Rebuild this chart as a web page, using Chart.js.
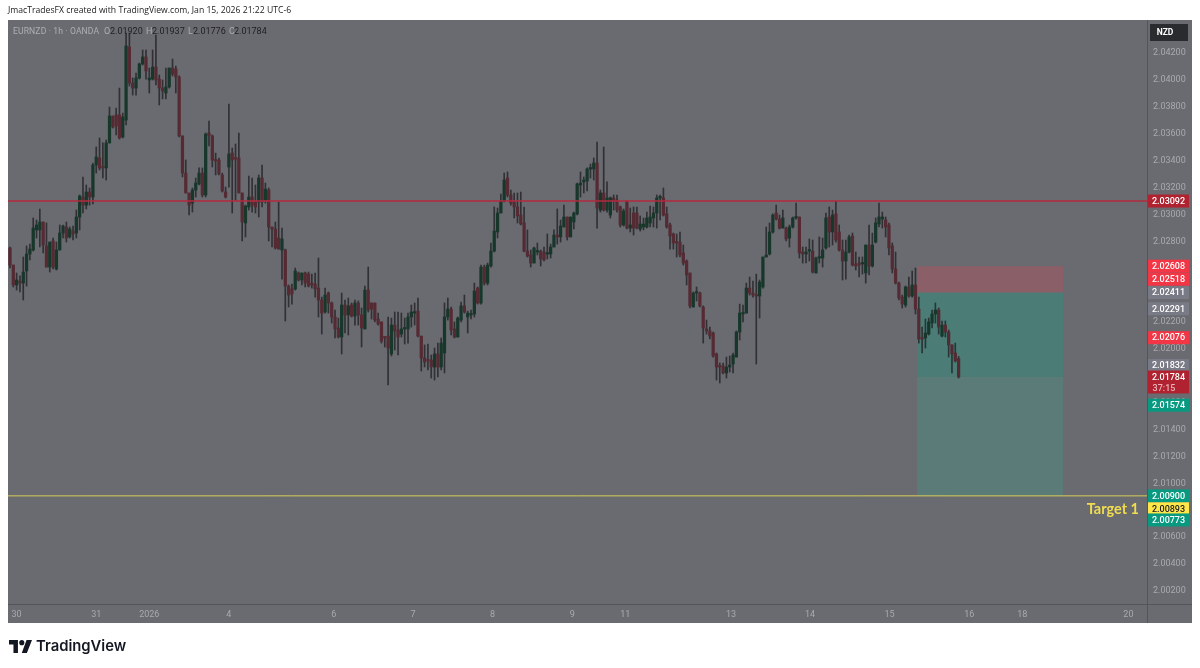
<!DOCTYPE html>
<html><head><meta charset="utf-8"><title>EURNZD</title>
<script src="https://cdn.jsdelivr.net/npm/chart.js@4"></script>
<style>
html,body{margin:0;padding:0;background:#fff;width:1200px;height:668px;overflow:hidden}
#c{position:absolute;left:0;top:0}
.t{position:absolute;white-space:pre;font-family:Roboto,sans-serif}
#cap{left:8px;top:4px;font:8.65px/13px "Open Sans",sans-serif;color:#222}
.lg{top:25px;font-size:9px;line-height:13px}
.g{color:#adaeb2}.v{color:#1e1e22}
#logo{left:9px;top:640px}
#lt{left:36px;top:636px;font:600 14.8px/20px Inter,sans-serif;color:#131722}
</style></head><body>
<canvas id="c" width="1200" height="668"></canvas>
<div class="t" id="cap">JmacTradesFX created with TradingView.com, Jan 15, 2026 21:22 UTC-6</div>
<div class="t lg g" style="left:13px;font-size:8.6px;letter-spacing:.12px">EURNZD · 1h · OANDA</div>
<div class="t lg g" style="left:104px">O</div><div class="t lg v" style="left:110px">2.01920</div>
<div class="t lg g" style="left:146px">H</div><div class="t lg v" style="left:152px">2.01937</div>
<div class="t lg g" style="left:188px">L</div><div class="t lg v" style="left:193px">2.01776</div>
<div class="t lg g" style="left:229px">C</div><div class="t lg v" style="left:234px">2.01784</div>
<svg class="t" id="logo" width="23" height="13" viewBox="0 0 36 20"><path fill="#131722" d="M14 20H7V7H0V0h14v20zM28 20h-8l7.5-20H36l-8 20z"/><circle cx="20" cy="4" r="4" fill="#131722"/></svg>
<div class="t" id="lt">TradingView</div>
<script>
const opens=[
2.02743,2.02616,2.02468,2.02497,2.02482,2.02572,2.02698,2.02728,2.02877,2.02877,
2.02936,2.02758,2.02601,2.02795,2.02587,2.02728,2.02854,2.02899,2.02825,2.02869,
2.02854,2.02973,2.03122,2.03062,2.03159,2.03122,2.03360,2.03412,2.03345,2.03338,
2.03524,2.03724,2.03732,2.03732,2.03568,2.03694,2.04237,2.03970,2.03932,2.04007,
2.04111,2.04163,2.03992,2.03999,2.04088,2.03999,2.03932,2.03895,2.03940,2.04081,
2.04074,2.04014,2.03576,2.03300,2.03152,2.03077,2.03174,2.03219,2.03300,2.03137,
2.03598,2.03576,2.03397,2.03397,2.03286,2.03159,2.03345,2.03449,2.03412,2.03412,
2.03152,2.02929,2.03048,2.03122,2.03085,2.03085,2.03263,2.03100,2.03174,2.02899,
2.02884,2.02817,2.02728,2.02728,2.02460,2.02438,2.02438,2.02557,2.02505,2.02557,
2.02549,2.02482,2.02475,2.02445,2.02356,2.02267,2.02408,2.02334,2.02230,2.02148,
2.02081,2.02319,2.02245,2.02319,2.02237,2.02334,2.02245,2.02141,2.02430,2.02334,
2.02334,2.02215,2.02193,2.02081,2.02088,2.01955,2.02170,2.02133,2.02103,2.02141,
2.02141,2.02230,2.02259,2.02274,2.02088,2.01925,2.01910,2.01910,2.01858,2.01955,
2.01858,2.01962,2.02230,2.02289,2.02141,2.02081,2.02207,2.02312,2.02230,2.02245,
2.02252,2.02445,2.02334,2.02601,2.02482,2.02609,2.02720,2.02862,2.03003,2.03092,
2.03263,2.03137,2.03085,2.03048,2.02988,2.02929,2.02720,2.02691,2.02631,2.02713,
2.02720,2.02713,2.02698,2.02698,2.02750,2.02839,2.02825,2.02899,2.02973,2.02825,
2.02936,2.02996,2.03211,2.03234,2.03241,2.03330,2.03330,2.03375,2.03025,2.03152,
2.03025,2.02988,2.03115,2.03100,2.03048,2.02914,2.03092,2.02891,2.03003,2.03003,
2.02884,2.02899,2.02899,2.02929,2.02966,2.03003,2.03115,2.03115,2.02996,2.02914,
2.02847,2.02787,2.02787,2.02706,2.02646,2.02557,2.02304,2.02408,2.02408,2.02304,
2.02141,2.02126,2.02111,2.01955,2.01866,2.01866,2.01814,2.01858,2.01880,2.01932,
2.02118,2.02252,2.02259,2.02445,2.02408,2.02393,2.02386,2.02453,2.02676,2.02698,
2.02862,2.03003,2.02958,2.02891,2.02891,2.02817,2.02899,2.02966,2.02973,2.02713,
2.02698,2.02720,2.02720,2.02557,2.02668,2.02668,2.02743,2.02973,2.02862,2.02996,
2.02862,2.02728,2.02646,2.02713,2.02832,2.02624,2.02631,2.02624,2.02557,2.02765,
2.02609,2.02787,2.02921,2.02958,2.02951,2.02914,2.02758,2.02587,2.02482,2.02378,
2.02319,2.02453,2.02386,2.02468,2.02289,2.02074,2.02074,2.02103,2.02185,2.02252,
2.02282,2.02088,2.02170,2.02118,2.02022,2.01962,2.01920];
const highs=[
2.02750,2.02616,2.02557,2.02535,2.02676,2.02758,2.02772,2.02966,2.02951,2.03033,
2.02936,2.02929,2.02787,2.02817,2.02787,2.02914,2.02914,2.02936,2.02899,2.02906,
2.03025,2.03137,2.03271,2.03211,2.03189,2.03375,2.03494,2.03561,2.03524,2.03546,
2.03791,2.03724,2.03784,2.03932,2.03746,2.04341,2.04341,2.04007,2.04044,2.04118,
2.04215,2.04215,2.04081,2.04215,2.04326,2.04029,2.03992,2.04081,2.04081,2.04148,
2.04096,2.04022,2.03576,2.03397,2.03152,2.03189,2.03263,2.03338,2.03338,2.03598,
2.03687,2.03583,2.03449,2.03412,2.03300,2.03196,2.03813,2.03486,2.03516,2.03598,
2.03152,2.03062,2.03278,2.03263,2.03211,2.03286,2.03360,2.03226,2.03189,2.02899,
2.02936,2.03085,2.02891,2.02735,2.02468,2.02475,2.02594,2.02564,2.02557,2.02564,
2.02564,2.02549,2.02557,2.02668,2.02378,2.02445,2.02416,2.02341,2.02282,2.02222,
2.02408,2.02356,2.02371,2.02334,2.02356,2.02349,2.02297,2.02460,2.02601,2.02334,
2.02334,2.02259,2.02193,2.02081,2.02230,2.02222,2.02267,2.02267,2.02259,2.02222,
2.02259,2.02319,2.02334,2.02371,2.02088,2.02022,2.02029,2.01947,2.01999,2.02036,
2.02074,2.02334,2.02371,2.02304,2.02193,2.02230,2.02341,2.02393,2.02274,2.02282,
2.02482,2.02453,2.02616,2.02616,2.02631,2.02780,2.03048,2.03040,2.03144,2.03300,
2.03308,2.03174,2.03152,2.03152,2.03159,2.03048,2.02877,2.02728,2.02750,2.02780,
2.02728,2.02750,2.02847,2.02772,2.02877,2.03033,2.02951,2.03062,2.02973,2.02973,
2.03010,2.03226,2.03308,2.03271,2.03338,2.03367,2.03412,2.03531,2.03174,2.03494,
2.03234,2.03122,2.03137,2.03137,2.03055,2.03033,2.03092,2.03040,2.03048,2.03048,
2.02981,2.02966,2.03010,2.03055,2.03048,2.03137,2.03137,2.03189,2.03048,2.02929,
2.02854,2.02847,2.02862,2.02765,2.02654,2.02557,2.02416,2.02453,2.02416,2.02312,
2.02207,2.02155,2.02118,2.01962,2.01888,2.01888,2.01932,2.01940,2.01962,2.02126,
2.02326,2.02319,2.02482,2.02527,2.02497,2.02549,2.02505,2.02676,2.02899,2.02929,
2.02996,2.03062,2.02988,2.03025,2.02899,2.02914,2.02973,2.03077,2.02973,2.02750,
2.02750,2.02810,2.02802,2.02676,2.02825,2.02817,2.03003,2.03048,2.03025,2.03092,
2.02914,2.02802,2.02802,2.02839,2.02854,2.02713,2.02676,2.02676,2.02765,2.02914,
2.02854,2.02966,2.03077,2.03010,2.02973,2.02929,2.02780,2.02713,2.02490,2.02393,
2.02460,2.02527,2.02572,2.02594,2.02378,2.02155,2.02215,2.02222,2.02282,2.02334,
2.02297,2.02200,2.02200,2.02133,2.02022,2.02036,2.01937];
const lows=[
2.02594,2.02453,2.02430,2.02416,2.02356,2.02460,2.02654,2.02720,2.02817,2.02750,
2.02706,2.02601,2.02564,2.02587,2.02579,2.02728,2.02817,2.02787,2.02817,2.02802,
2.02817,2.02877,2.03003,2.03033,2.03062,2.03070,2.03300,2.03323,2.03263,2.03248,
2.03524,2.03635,2.03583,2.03553,2.03561,2.03657,2.03947,2.03880,2.03880,2.03999,
2.04103,2.03999,2.03895,2.03992,2.03955,2.03806,2.03851,2.03851,2.03932,2.04022,
2.03895,2.03568,2.03271,2.03152,2.02988,2.03010,2.03122,2.03211,2.03122,2.03122,
2.03501,2.03345,2.03286,2.03286,2.03159,2.03115,2.03196,2.03003,2.03100,2.03152,
2.02795,2.02825,2.03025,2.03010,2.03003,2.02973,2.03048,2.03077,2.02795,2.02750,
2.02735,2.02735,2.02512,2.02200,2.02304,2.02326,2.02430,2.02497,2.02468,2.02453,
2.02453,2.02445,2.02378,2.02230,2.02103,2.02259,2.02259,2.02185,2.02074,2.02074,
2.01955,2.02111,2.02096,2.02230,2.02170,2.02170,2.02007,2.02141,2.02267,2.02215,
2.02193,2.02170,2.02036,2.02007,2.01724,2.01940,2.01984,2.01947,2.02081,2.02029,
2.02036,2.02155,2.02170,2.02081,2.01828,2.01858,2.01836,2.01776,2.01761,2.01784,
2.01836,2.01814,2.02207,2.02096,2.02074,2.02081,2.02193,2.02259,2.02111,2.02215,
2.02230,2.02326,2.02326,2.02468,2.02468,2.02601,2.02713,2.02817,2.03003,2.03085,
2.03122,2.03062,2.02966,2.02929,2.02914,2.02713,2.02676,2.02601,2.02631,2.02691,
2.02609,2.02646,2.02661,2.02668,2.02750,2.02772,2.02787,2.02899,2.02802,2.02825,
2.02884,2.02988,2.03122,2.03152,2.03167,2.03263,2.03248,2.02891,2.03010,2.03018,
2.03010,2.02966,2.03025,2.03010,2.02899,2.02906,2.02884,2.02862,2.02839,2.02884,
2.02869,2.02877,2.02891,2.02899,2.02899,2.02891,2.02951,2.02981,2.02891,2.02735,
2.02735,2.02676,2.02676,2.02616,2.02468,2.02297,2.02304,2.02349,2.02304,2.02036,
2.02103,2.02066,2.01932,2.01761,2.01739,2.01806,2.01776,2.01821,2.01814,2.01932,
2.02059,2.02193,2.02259,2.02393,2.02378,2.01880,2.02222,2.02445,2.02676,2.02691,
2.02854,2.02951,2.02884,2.02891,2.02795,2.02750,2.02891,2.02958,2.02668,2.02631,
2.02631,2.02646,2.02557,2.02557,2.02631,2.02601,2.02735,2.02750,2.02765,2.02787,
2.02720,2.02505,2.02512,2.02706,2.02609,2.02579,2.02527,2.02549,2.02482,2.02542,
2.02601,2.02780,2.02899,2.02891,2.02825,2.02691,2.02557,2.02475,2.02356,2.02297,
2.02304,2.02378,2.02378,2.02252,2.02036,2.01962,2.01999,2.02096,2.02148,2.02185,
2.02103,2.02081,2.02081,2.01932,2.01814,2.01895,2.01776];
const closes=[
2.02616,2.02468,2.02505,2.02482,2.02564,2.02698,2.02735,2.02891,2.02914,2.02936,
2.02765,2.02601,2.02787,2.02601,2.02728,2.02854,2.02906,2.02817,2.02884,2.02847,
2.02973,2.03129,2.03062,2.03159,2.03122,2.03360,2.03419,2.03338,2.03338,2.03524,
2.03724,2.03642,2.03650,2.03561,2.03717,2.04245,2.03970,2.03932,2.04007,2.04111,
2.04163,2.04059,2.04007,2.04088,2.03992,2.03932,2.03910,2.03940,2.04081,2.04036,
2.04014,2.03576,2.03300,2.03152,2.03062,2.03174,2.03226,2.03300,2.03137,2.03590,
2.03576,2.03397,2.03390,2.03293,2.03167,2.03122,2.03442,2.03397,2.03404,2.03152,
2.02936,2.03055,2.03122,2.03062,2.03048,2.03263,2.03085,2.03181,2.02899,2.02884,
2.02743,2.02735,2.02810,2.02460,2.02393,2.02401,2.02572,2.02505,2.02557,2.02482,
2.02460,2.02468,2.02438,2.02356,2.02259,2.02393,2.02334,2.02230,2.02141,2.02081,
2.02319,2.02245,2.02312,2.02237,2.02334,2.02245,2.02148,2.02430,2.02282,2.02289,
2.02207,2.02178,2.02051,2.02074,2.01999,2.02170,2.02126,2.02081,2.02141,2.02148,
2.02230,2.02267,2.02267,2.02088,2.01925,2.01895,2.01903,2.01858,2.01955,2.01858,
2.02036,2.02230,2.02289,2.02133,2.02081,2.02222,2.02312,2.02267,2.02259,2.02252,
2.02423,2.02334,2.02601,2.02482,2.02616,2.02720,2.02869,2.03003,2.03092,2.03248,
2.03137,2.03077,2.03048,2.02981,2.02921,2.02720,2.02683,2.02631,2.02743,2.02720,
2.02661,2.02654,2.02706,2.02750,2.02839,2.02825,2.02906,2.02973,2.02825,2.02973,
2.03003,2.03219,2.03226,2.03248,2.03330,2.03338,2.03375,2.03040,2.03152,2.03025,
2.03115,2.03115,2.03092,2.03025,2.02914,2.03018,2.02891,2.02914,2.02891,2.02891,
2.02921,2.02921,2.02966,2.02973,2.03003,2.03115,2.03122,2.02988,2.02899,2.02832,
2.02780,2.02780,2.02691,2.02631,2.02542,2.02312,2.02408,2.02416,2.02312,2.02148,
2.02126,2.02088,2.01940,2.01858,2.01858,2.01814,2.01858,2.01873,2.01947,2.02118,
2.02259,2.02259,2.02445,2.02408,2.02393,2.02386,2.02490,2.02676,2.02691,2.02862,
2.02988,2.02958,2.02891,2.02966,2.02810,2.02899,2.02966,2.02973,2.02706,2.02698,
2.02713,2.02728,2.02564,2.02668,2.02676,2.02728,2.02966,2.02862,2.02988,2.02802,
2.02728,2.02646,2.02713,2.02825,2.02616,2.02609,2.02616,2.02631,2.02765,2.02609,
2.02765,2.02929,2.02973,2.02973,2.02899,2.02743,2.02587,2.02482,2.02371,2.02326,
2.02453,2.02386,2.02468,2.02289,2.02066,2.02066,2.02111,2.02193,2.02252,2.02282,
2.02155,2.02170,2.02118,2.02022,2.01955,2.01903,2.01784];

const priceTicks=[2.002,2.004,2.006,2.008,2.010,2.012,2.014,2.016,2.018,2.020,2.022,2.024,2.026,2.028,2.030,2.032,2.034,2.036,2.038,2.040,2.042];
const timeTickSlots=[2,26,42,66,97.6,121.5,145.5,169.5,185.5,217.4,241.2,265.2,289.2,305.2,337.2];
const timeTickLabels=['30','31','2026','4','6','7','8','9','11','13','14','15','16','18','20'];
const resistanceLevel=2.03092, targetLevel=2.00893;
const targetLabel='Target 1';
const boxStartSlot=273.5, boxEndSlot=317.5;
const stopPrice=2.02608, entryPrice=2.02411, takeProfitPrice=2.00900, lastClose=2.01784;
const tagValues=[2.03092,2.02608,2.02518,2.02411,2.02291,2.02076,2.01832,2.01574,2.00900,2.00893,2.00773];
const tagColors=['#b0222f','#f23645','#f23645','#787b86','#787b86','#f23645','#787b86','#089981','#089981','#ffe74a','#089981'];
const tagInk=['#fff','#fff','#fff','#fff','#fff','#fff','#fff','#fff','#fff','#222','#fff'];
const tagNudge=[0,0,1,0,0,0,-5,0,0,12,7];
const countdownText='37:15';

const RED='#552a33', GREEN='#17372b', WICK='rgba(30,30,34,.76)';
const idx=opens.map((_,i)=>i);
const frame={
 id:'frame',
 beforeDraw(ch){const g=ch.ctx;g.save();g.fillStyle='#fff';g.fillRect(0,0,1200,668);
  g.fillStyle='#6a6b70';g.fillRect(8,20,1184,603);g.restore();},
 beforeDatasetsDraw(ch){
  const g=ch.ctx,x=ch.scales.x,y=ch.scales.y;
  const a=x.getPixelForValue(boxStartSlot),b=x.getPixelForValue(boxEndSlot);
  const band=(p,q,c)=>{g.fillStyle=c;g.fillRect(a,y.getPixelForValue(p),b-a,y.getPixelForValue(q)-y.getPixelForValue(p));};
  g.save();
  band(stopPrice,entryPrice,'#8a5f68');
  band(entryPrice,lastClose,'#4b7d76');
  band(lastClose,takeProfitPrice,'#5b7b78');
  g.restore();
 },
 afterDatasetsDraw(ch){
  const g=ch.ctx,y=ch.scales.y,A=ch.chartArea;
  g.save();
  const ry=y.getPixelForValue(resistanceLevel);
  g.strokeStyle='#b32a3f';g.lineWidth=1.4;g.beginPath();g.moveTo(8,ry);g.lineTo(A.right,ry);g.stroke();
  const ty=y.getPixelForValue(takeProfitPrice);
  g.strokeStyle='#d8cd58';g.lineWidth=1;g.beginPath();g.moveTo(8,ty);g.lineTo(A.right,ty);g.stroke();
  g.fillStyle='#f0dc50';g.font='bold 14.5px Lato,sans-serif';g.textAlign='right';g.textBaseline='middle';
  g.fillText(targetLabel,1139,y.getPixelForValue(targetLevel)+13);
  g.restore();
 },
 afterDraw(ch){
  const g=ch.ctx,y=ch.scales.y,A=ch.chartArea;
  g.save();
  g.fillStyle='#54555a';g.fillRect(A.right,20,1,603);g.fillRect(8,A.bottom,1184,1);
  g.font='500 9px Roboto,sans-serif';g.textBaseline='middle';g.textAlign='center';
  tagValues.forEach((v,i)=>{
   const py=y.getPixelForValue(v)+tagNudge[i];
   g.fillStyle=tagColors[i];g.fillRect(1148,py-6.5,41,13);
   g.fillStyle=tagInk[i];g.fillText(v.toFixed(5),1168.5,py+.5);
  });
  const py=y.getPixelForValue(lastClose);
  g.fillStyle='#b0222f';g.fillRect(1148,py-6.5,41,23);
  g.fillStyle='#fff';g.fillText(lastClose.toFixed(5),1168.5,py+.5);
  g.fillStyle='#eab4ba';g.fillText(countdownText,1164,py+12);
  g.fillStyle='#2a2b2f';g.fillRect(1150,24,38,17);
  g.fillStyle='#fff';g.font='bold 8.5px Roboto,sans-serif';g.fillText('NZD',1165,33);
  g.restore();
 }
};
new Chart(document.getElementById('c'),{
 type:'bar',
 data:{datasets:[
  {label:'body',order:0,data:idx.map(i=>({x:i,y:[opens[i],closes[i]]})),
   backgroundColor:idx.map(i=>closes[i]>=opens[i]?GREEN:RED),barThickness:2.6,grouped:false,minBarLength:1.5},
  {label:'wick',order:1,data:idx.map(i=>({x:i,y:[lows[i],highs[i]]})),
   backgroundColor:WICK,barThickness:1,grouped:false}
 ]},
 plugins:[frame],
 options:{
  responsive:false,animation:false,devicePixelRatio:1,
  layout:{padding:{left:8,top:20,right:8,bottom:45}},
  plugins:{legend:{display:false},tooltip:{enabled:false},title:{display:false}},
  scales:{
   x:{type:'linear',offset:false,min:-0.6,max:342.8,grid:{display:false,drawTicks:false},border:{display:false},
    afterBuildTicks(s){s.ticks=timeTickSlots.map(v=>({value:v}));},
    afterFit(s){s.height=19;},
    ticks:{autoSkip:false,maxRotation:0,padding:5,color:'#a9aaae',font:{family:'Roboto',size:9},
     callback(v){return timeTickLabels[timeTickSlots.indexOf(v)];}}},
   y:{type:'linear',position:'right',min:2.00096,max:2.04438,grid:{display:false,drawTicks:false},border:{display:false},
    afterBuildTicks(s){s.ticks=priceTicks.map(v=>({value:v}));},
    afterFit(s){s.width=45;},
    ticks:{autoSkip:false,padding:6,labelOffset:1,color:'#a9aaae',font:{family:'Roboto',size:9},
     callback(v){return v.toFixed(5);}}}
  }
 }
});
</script></body></html>
